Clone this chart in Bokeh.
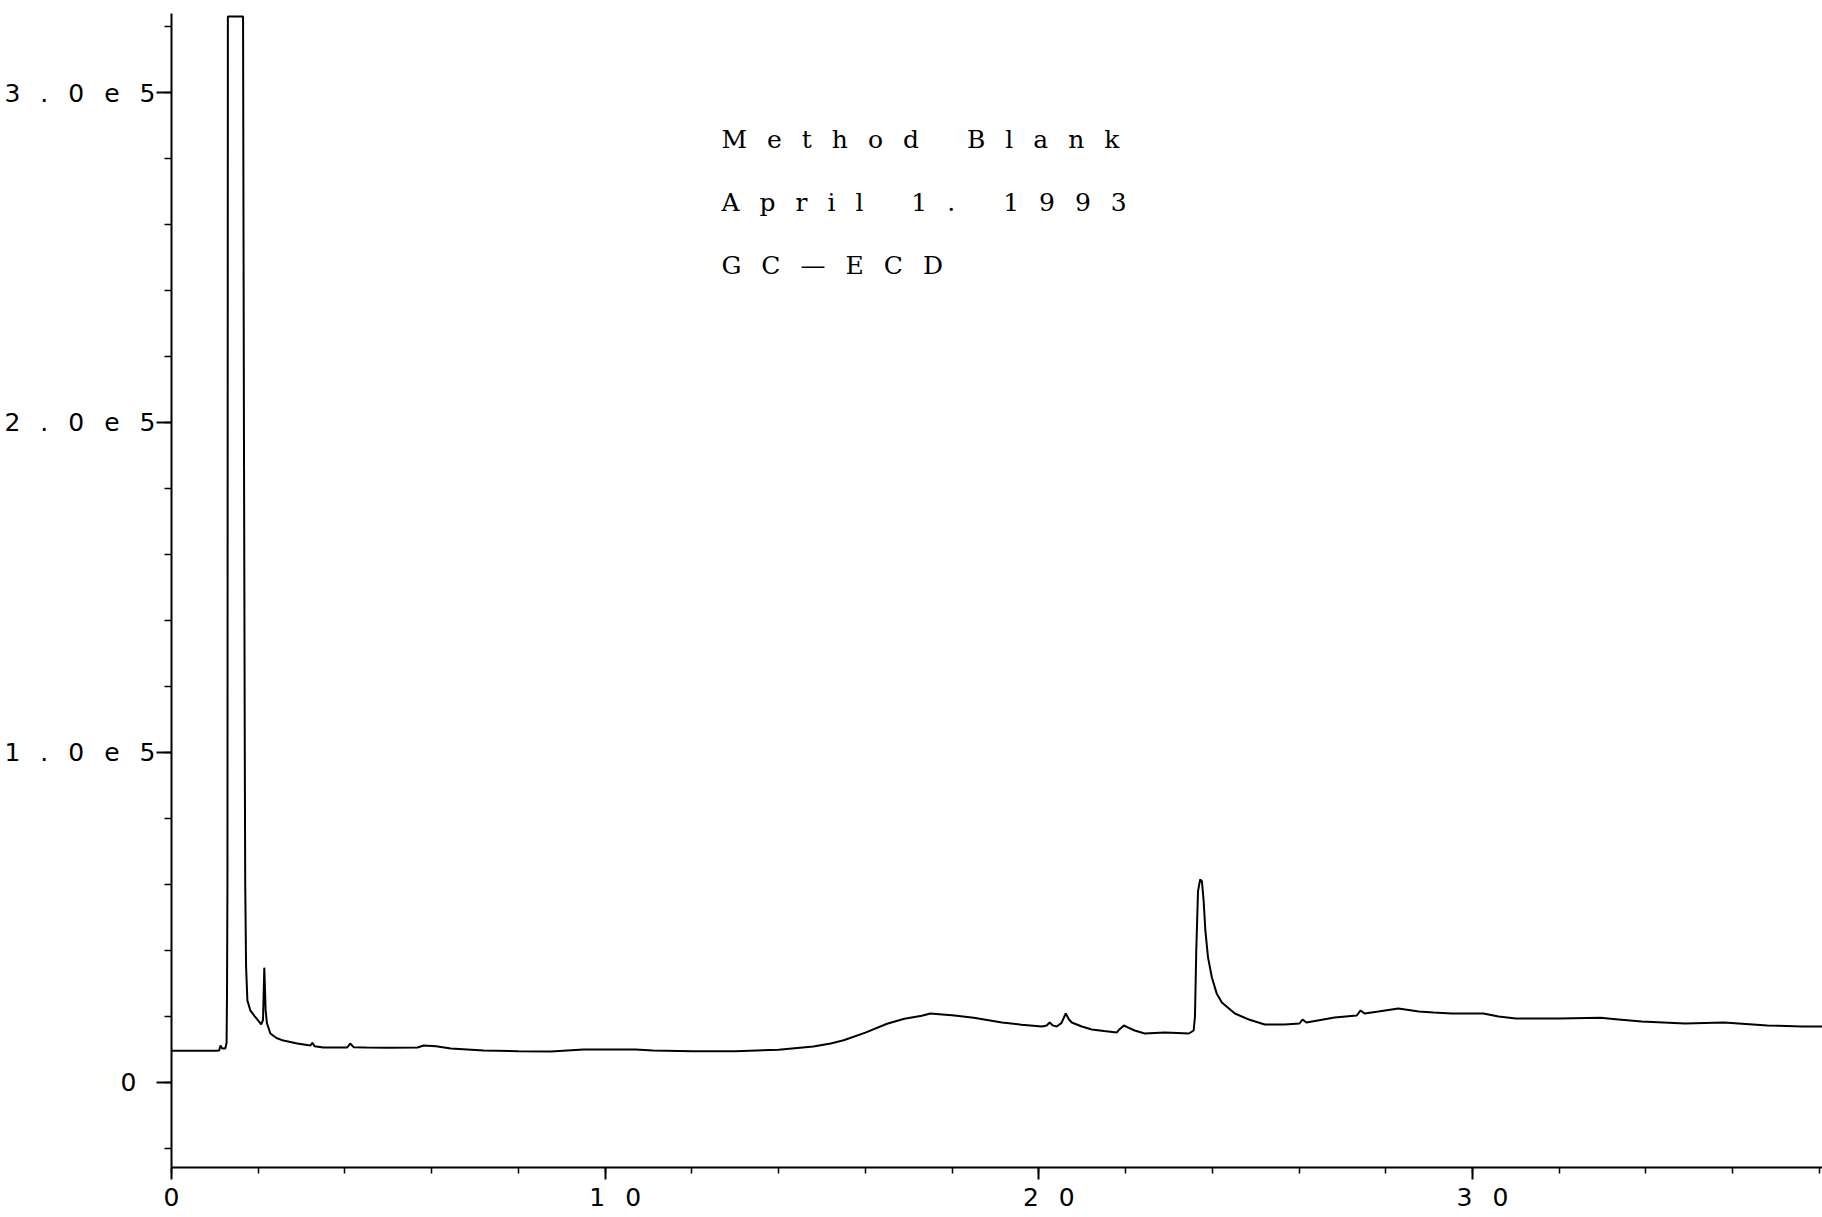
from bokeh.plotting import figure
from bokeh.models import FixedTicker, Label, Range1d, LinearAxis
from bokeh.embed import file_html
from bokeh.resources import INLINE

# Retention time (min)
time_min = [
    0.00, 0.50, 1.00, 1.10, 1.13, 1.17, 1.24, 1.27, 1.28, 1.29, 1.30, 1.65,
    1.67, 1.69, 1.70, 1.72, 1.75, 1.82, 1.94, 2.07, 2.11, 2.14, 2.17, 2.20,
    2.28, 2.42, 2.58, 2.90, 3.20, 3.25, 3.30, 3.50, 4.05, 4.12, 4.20, 4.50,
    5.00, 5.67, 5.82, 6.10, 6.44, 7.20, 8.00, 8.75, 9.50, 10.00, 10.70, 11.10,
    12.00, 13.00, 14.00, 14.80, 15.20, 15.50, 16.00, 16.50, 16.90, 17.30,
    17.50, 17.70, 18.00, 18.50, 19.15, 19.60, 20.07, 20.18, 20.25, 20.32,
    20.41, 20.52, 20.62, 20.70, 20.76, 20.99, 21.22, 21.50, 21.80, 21.85,
    21.96, 22.05, 22.21, 22.44, 22.90, 23.20, 23.46, 23.57, 23.60, 23.63,
    23.67, 23.72, 23.76, 23.80, 23.84, 23.90, 23.99, 24.10, 24.22, 24.52,
    24.84, 25.21, 25.67, 26.01, 26.08, 26.17, 26.82, 27.33, 27.42, 27.51,
    27.83, 28.29, 28.76, 29.10, 29.52, 30.25, 30.60, 31.00, 32.00, 32.95,
    33.30, 33.90, 34.90, 35.80, 36.80, 37.60, 38.07,
]

# Detector response (ECD counts); main solvent peak runs off scale (clipped at top)
response = [
    9600, 9600, 9600, 9700, 11200, 10300, 10300, 12000, 27000, 60000, 323000, 323000,
    200000, 100000, 60000, 35000, 24800, 21800, 19700, 17600, 19000, 34800, 22000, 18000,
    14850, 13500, 12700, 11800, 11200, 12000, 11000, 10600, 10600, 11800, 10700, 10600,
    10500, 10600, 11200, 11000, 10300, 9700, 9500, 9400, 10000, 10000, 10000, 9700,
    9500, 9500, 9900, 10900, 11800, 12800, 15100, 17800, 19300, 20200,
    20900, 20700, 20400, 19600, 18200, 17500, 16970, 17300, 18180, 17300,
    16970, 18000, 20900, 19000, 18180, 16970, 16060, 15600, 15150, 16000,
    17270, 16700, 15760, 14850, 15150, 15000, 14850, 15760, 20000, 40000,
    58000, 61500, 61000, 55000, 46000, 38000, 31800, 27000, 24240, 20900,
    19090, 17570, 17570, 17880, 19090, 18180, 19700, 20300, 21820, 20900,
    21500, 22420, 21500, 21200, 20900, 20900, 20000, 19400, 19400, 19600,
    19200, 18500, 17900, 18200, 17300, 16970, 17000,
]

x_major_ticks = [0, 10, 20, 30]
x_major_labels = ["0", "10", "20", "30"]
x_minor_ticks = list(range(0, 40, 2))

y_major_ticks = [0, 100000, 200000, 300000]
y_major_labels = ["0", "1.0e5", "2.0e5", "3.0e5"]
y_minor_ticks = list(range(-20000, 340000, 20000))

note_lines = ["Method Blank", "April 1. 1993", "GC\u2014ECD"]
note_x = 12.68
note_y = [285700, 266600, 247500]

p = figure(
    width=1822, height=1217,
    output_backend="svg", toolbar_location=None,
    x_range=Range1d(0, 38.07), y_range=Range1d(-25760, 323940),
    min_border_left=171, min_border_right=0, min_border_top=13, min_border_bottom=50,
    styles={"letter-spacing": "20px"},  # wide plotter-style character spacing
)
p.outline_line_color = None
p.grid.visible = False
p.background_fill_color = "white"
p.border_fill_color = "white"

p.line(time_min, response, line_color="black", line_width=2)

label_font = "DejaVu Sans"
label_size = "25px"

# x axis
xa = p.xaxis[0]
xa.ticker = FixedTicker(ticks=x_major_ticks, minor_ticks=x_minor_ticks)
xa.major_label_overrides = dict(zip(x_major_ticks, x_major_labels))
xa.major_tick_out = 12
xa.minor_tick_out = 6
xa.major_label_standoff = 8

# y axis (inner): axis line, all ticks, and the short "0" label
ya = p.yaxis[0]
ya.ticker = FixedTicker(ticks=y_major_ticks, minor_ticks=y_minor_ticks)
ya.major_label_overrides = {t: (lab if len(lab) == 1 else "") for t, lab in zip(y_major_ticks, y_major_labels)}
ya.major_tick_out = 15
ya.minor_tick_out = 7
ya.major_label_standoff = 20

for ax in (xa, ya):
    ax.axis_line_color = "black"
    ax.axis_line_width = 2
    ax.major_tick_line_color = "black"
    ax.major_tick_line_width = 2
    ax.minor_tick_line_color = "black"
    ax.minor_tick_line_width = 1.5
    ax.major_tick_in = 0
    ax.minor_tick_in = 0
    ax.major_label_text_font = label_font
    ax.major_label_text_font_size = label_size
    ax.major_label_text_color = "black"

# y axis (outer): the long exponent labels only
long_ticks = [t for t, lab in zip(y_major_ticks, y_major_labels) if len(lab) > 1]
long_labels = [lab for lab in y_major_labels if len(lab) > 1]
ya2 = LinearAxis(
    ticker=FixedTicker(ticks=long_ticks, minor_ticks=[]),
    major_label_overrides=dict(zip(long_ticks, long_labels)),
    axis_line_color=None, major_tick_line_color=None, minor_tick_line_color=None,
    major_tick_out=0, major_tick_in=0, minor_tick_out=0, minor_tick_in=0,
    major_label_standoff=42,
    major_label_text_font=label_font, major_label_text_font_size=label_size,
    major_label_text_color="black",
)
p.add_layout(ya2, "left")

for txt, yv in zip(note_lines, note_y):
    p.add_layout(Label(
        x=note_x, y=yv, text=txt,
        text_font="DejaVu Serif", text_font_size="25px",
        text_color="black", text_align="left", text_baseline="alphabetic",
    ))

open("out.html", "w").write(file_html(p, INLINE))
